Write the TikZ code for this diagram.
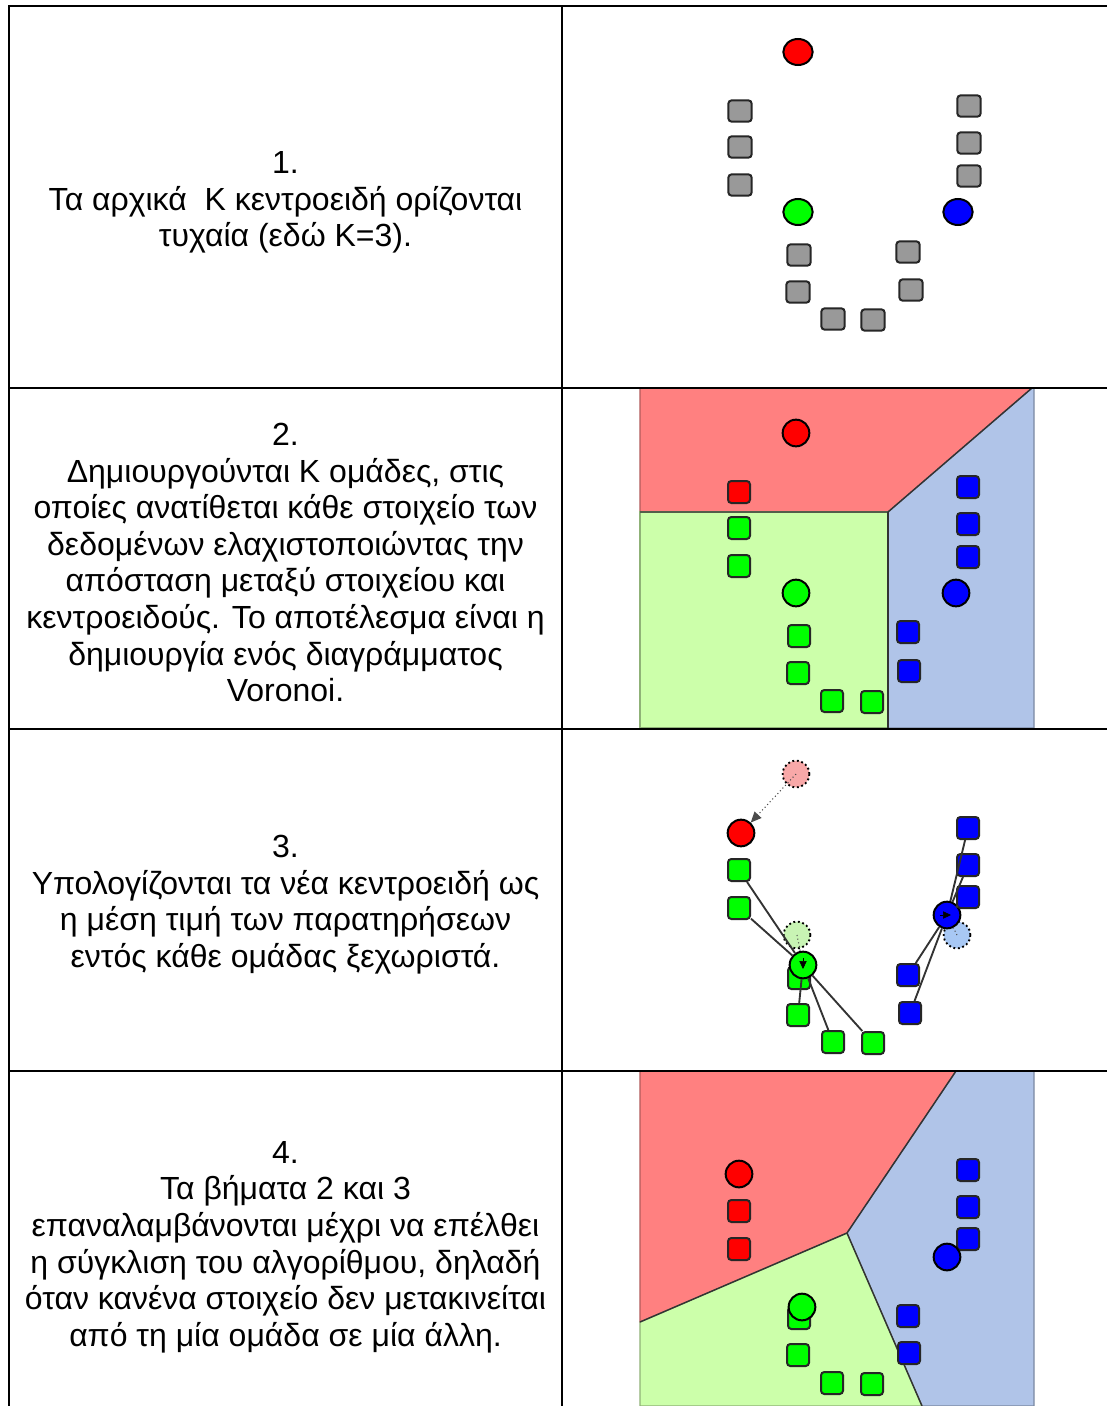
\documentclass[tikz,border=0pt]{standalone}
\usepackage{fontspec}
\setmainfont{Liberation Sans}
\usetikzlibrary{arrows.meta,shapes.geometric}
\definecolor{cred}{HTML}{FF0000}
\definecolor{cgreen}{HTML}{00FF00}
\definecolor{cblue}{HTML}{0000FF}
\definecolor{cgray}{HTML}{999999}
\definecolor{rreg}{HTML}{FF8080}
\definecolor{greg}{HTML}{CCFFAA}
\definecolor{breg}{HTML}{B0C4E8}
\definecolor{rghost}{HTML}{F8A8A8}
\definecolor{gghost}{HTML}{C8F4B4}
\definecolor{bghost}{HTML}{A8C8F4}
\begin{document}
\begin{tikzpicture}[x=0.75pt,y=-0.75pt,
  sq/.style={draw=black!85, line width=1.5pt, rounded corners=2.5pt, minimum size=16.5pt, inner sep=0pt},
  sqa/.style={sq, minimum width=17.5pt, minimum height=16pt},
  dot/.style={circle, draw=black, line width=1.5pt, minimum size=20pt, inner sep=0pt},
  dota/.style={ellipse, draw=black, line width=1.5pt, minimum width=22pt, minimum height=19.5pt, inner sep=0pt},
  ghost/.style={circle, draw=black, dotted, line width=1.4pt, minimum size=20pt, inner sep=0pt},
  grid/.style={line width=1.5pt},
  txt/.style={align=center, font=\fontsize{24pt}{27.45pt}\selectfont, inner sep=0pt},
  link/.style={draw=black!80, line width=1.4pt},
  bnd/.style={draw=black!80, line width=1.1pt},
  tipmark/.style={-{Triangle[length=6pt,width=5.5pt]}, line width=0.4pt}
]
\useasboundingbox (0,0) rectangle (1107,1406);
\fill[white] (0,0) rectangle (1107,1406);

% ---------- text column ----------
\node[txt] (t1) at (285.5,202.5) {1.\\Τα αρχικά\ \ K κεντροειδή ορίζονται\\τυχαία (εδώ K=3).};
\node[txt] (t2) at (285.5,562.5) {2.\\Δημιουργούνται K ομάδες, στις\\οποίες ανατίθεται κάθε στοιχείο των\\δεδομένων ελαχιστοποιώντας την\\απόσταση μεταξύ στοιχείου και\\κεντροειδούς. Το αποτέλεσμα είναι η\\δημιουργία ενός διαγράμματος\\Voronoi.};
\node[txt] (t3) at (285.5,904.5) {3.\\Υπολογίζονται τα νέα κεντροειδή ως\\η μέση τιμή των παρατηρήσεων\\εντός κάθε ομάδας ξεχωριστά.};
\node[txt] (t4) at (285.5,1247) {4.\\Τα βήματα 2 και 3\\επαναλαμβάνονται μέχρι να επέλθει\\η σύγκλιση του αλγορίθμου, δηλαδή\\όταν κανένα στοιχείο δεν μετακινείται\\από τη μία ομάδα σε μία άλλη.};

% ---------- panel 1 ----------
\node[dota, fill=cred]   (p1r) at (798,52) {};
\node[dota, fill=cgreen] (p1g) at (798,212) {};
\node[dota, fill=cblue]  (p1b) at (958,212) {};
\node[sqa, fill=cgray] (p1s1) at (740,111) {};
\node[sqa, fill=cgray] (p1s2) at (740,147) {};
\node[sqa, fill=cgray] (p1s3) at (740,185) {};
\node[sqa, fill=cgray] (p1s4) at (799,255) {};
\node[sqa, fill=cgray] (p1s5) at (798,292) {};
\node[sqa, fill=cgray] (p1s6) at (833,319) {};
\node[sqa, fill=cgray] (p1s7) at (873,320) {};
\node[sqa, fill=cgray] (p1s8) at (969,106) {};
\node[sqa, fill=cgray] (p1s9) at (969,143) {};
\node[sqa, fill=cgray] (p1s10) at (969,176) {};
\node[sqa, fill=cgray] (p1s11) at (908,252) {};
\node[sqa, fill=cgray] (p1s12) at (911,290) {};

% ---------- panel 2 ----------
\filldraw[fill=rreg, draw=rreg!70!black, line width=0.8pt] (640,388) -- (1032,388) -- (888,512) -- (640,512) -- cycle;
\filldraw[fill=greg, draw=greg!70!black, line width=0.8pt] (640,512) -- (888,512) -- (888,728) -- (640,728) -- cycle;
\filldraw[fill=breg, draw=breg!70!black, line width=0.8pt] (888,512) -- (1032,388) -- (1034,388) -- (1034,728) -- (888,728) -- cycle;
\draw[bnd] (640,512) -- (888,512) -- (1032,388);
\draw[bnd] (888,512) -- (888,728);
\node[dot, fill=cred]   (p2r) at (796,433) {};
\node[dot, fill=cgreen] (p2g) at (796,593) {};
\node[dot, fill=cblue]  (p2b) at (956,593) {};
\node[sq, fill=cred]   (p2s1) at (739,492) {};
\node[sq, fill=cgreen] (p2s2) at (739,528) {};
\node[sq, fill=cgreen] (p2s3) at (739,566) {};
\node[sq, fill=cgreen] (p2s4) at (799,636) {};
\node[sq, fill=cgreen] (p2s5) at (798,673) {};
\node[sq, fill=cgreen] (p2s6) at (832,701) {};
\node[sq, fill=cgreen] (p2s7) at (872,702) {};
\node[sq, fill=cblue] (p2s8) at (968,487) {};
\node[sq, fill=cblue] (p2s9) at (968,524) {};
\node[sq, fill=cblue] (p2s10) at (968,557) {};
\node[sq, fill=cblue] (p2s11) at (908,632) {};
\node[sq, fill=cblue] (p2s12) at (909,671) {};

% ---------- panel 3 ----------
\node[ghost, fill=rghost] (p3rg) at (796,774) {};
\node[ghost, fill=gghost] (p3gg) at (797,935) {};
\node[ghost, fill=bghost] (p3bg) at (957,935) {};
\node[sq, fill=cgreen] (p3s0) at (799,978) {};
\node[dot, fill=cred]   (p3r) at (741,833) {};
\node[dot, fill=cgreen] (p3g) at (803,965) {};
\node[dot, fill=cblue]  (p3b) at (947,915) {};
\node[sq, fill=cgreen] (p3s1) at (739,870) {};
\node[sq, fill=cgreen] (p3s2) at (739,908) {};
\node[sq, fill=cgreen] (p3s3) at (798,1015) {};
\node[sq, fill=cgreen] (p3s4) at (833,1042) {};
\node[sq, fill=cgreen] (p3s5) at (873,1043) {};
\node[sq, fill=cblue] (p3s6) at (968,828) {};
\node[sq, fill=cblue] (p3s7) at (968,865) {};
\node[sq, fill=cblue] (p3s8) at (968,897) {};
\node[sq, fill=cblue] (p3s9) at (908,975) {};
\node[sq, fill=cblue] (p3s10) at (910,1013) {};
\draw[link] (p3s1) -- (p3g);
\draw[link] (p3s2) -- (p3g);
\draw[link] (p3g) -- (p3s3);
\draw[link] (p3g) -- (p3s4);
\draw[link] (p3g) -- (p3s5);
\draw[link] (p3b) -- (p3s6);
\draw[link] (p3b) -- (p3s7);
\draw[link] (p3b) -- (p3s8);
\draw[link] (p3b) -- (p3s9);
\draw[link] (p3b) -- (p3s10);
\draw[dotted, line width=0.8pt, draw=black!70, -{Triangle[length=8pt,width=7pt]}] (p3rg.center) -- (p3r);
\draw[dotted, line width=0.8pt, draw=black!70] (p3gg.center) -- (p3g);
\draw[dotted, line width=0.8pt, draw=black!70] (p3bg.center) -- (p3b);
\draw[tipmark] ([yshift=5pt]p3g.center) -- ([yshift=-3pt]p3g.center);
\draw[tipmark] ([xshift=-5pt]p3b.center) -- ([xshift=3pt]p3b.center);

% ---------- panel 4 ----------
\filldraw[fill=rreg, draw=rreg!70!black, line width=0.8pt] (640,1071) -- (956,1071) -- (847,1233) -- (640,1322) -- cycle;
\filldraw[fill=breg, draw=breg!70!black, line width=0.8pt] (956,1071) -- (1034,1071) -- (1034,1406) -- (922,1406) -- (847,1233) -- cycle;
\filldraw[fill=greg, draw=greg!70!black, line width=0.8pt] (640,1322) -- (847,1233) -- (922,1406) -- (640,1406) -- cycle;
\draw[bnd] (956,1071) -- (847,1233) -- (640,1322);
\draw[bnd] (847,1233) -- (922,1406);
\node[sq, fill=cgreen] (p4s0) at (799,1318) {};
\node[dot, fill=cred]   (p4r) at (739,1174) {};
\node[dot, fill=cgreen] (p4g) at (802,1307) {};
\node[sq, fill=cred] (p4s1) at (739,1211) {};
\node[sq, fill=cred] (p4s2) at (739,1249) {};
\node[sq, fill=cblue] (p4s3) at (968,1170) {};
\node[sq, fill=cblue] (p4s4) at (968,1207) {};
\node[sq, fill=cblue] (p4s5) at (968,1239) {};
\node[dot, fill=cblue]  (p4b) at (947,1257) {};
\node[sq, fill=cgreen] (p4s6) at (798,1355) {};
\node[sq, fill=cgreen] (p4s7) at (832,1383) {};
\node[sq, fill=cgreen] (p4s8) at (872,1384) {};
\node[sq, fill=cblue] (p4s9) at (908,1316) {};
\node[sq, fill=cblue] (p4s10) at (909,1353) {};

% ---------- table rules ----------
\draw[grid] (9,6) -- (1107,6);
\draw[grid] (9,388) -- (1107,388);
\draw[grid] (9,729) -- (1107,729);
\draw[grid] (9,1071) -- (1107,1071);
\draw[grid] (9,5.25) -- (9,1406);
\draw[grid] (562,6) -- (562,1406);
\end{tikzpicture}
\end{document}
